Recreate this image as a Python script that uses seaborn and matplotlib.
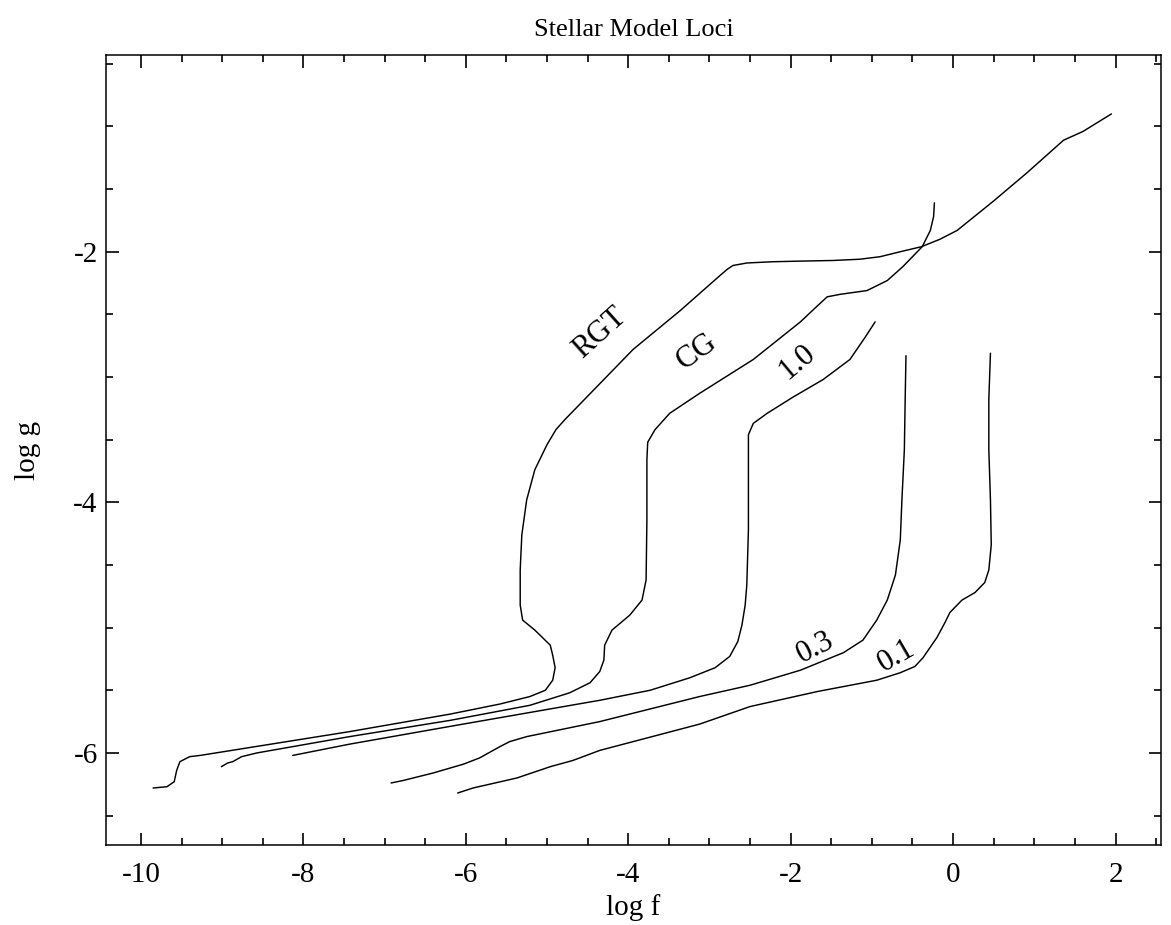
import matplotlib
matplotlib.use("Agg")
import matplotlib.pyplot as plt
from matplotlib.ticker import MultipleLocator
import pandas as pd
import seaborn as sns

# ---- model loci (log f, log g) ----
rgt_f = [-9.85, -9.68, -9.59, -9.56, -9.52, -9.40, -9.27, -7.43, -6.19, -5.58, -5.21,
         -5.02, -4.93, -4.90, -4.93, -4.96, -5.15, -5.30, -5.33, -5.33, -5.31, -5.25,
         -5.15, -5.00, -4.89, -4.78, -3.94, -3.36, -2.87, -2.78, -2.71, -2.54, -2.22,
         -1.88, -1.48, -1.15, -0.90, -0.65, -0.39, -0.16, 0.05, 0.49, 0.91, 1.36, 1.60,
         1.95]
rgt_g = [-6.28, -6.27, -6.23, -6.14, -6.07, -6.03, -6.02, -5.83, -5.69, -5.61, -5.55,
         -5.50, -5.42, -5.32, -5.22, -5.14, -5.02, -4.94, -4.82, -4.54, -4.26, -3.98,
         -3.74, -3.54, -3.42, -3.34, -2.78, -2.47, -2.19, -2.14, -2.11, -2.09, -2.08,
         -2.075, -2.07, -2.06, -2.04, -2.00, -1.96, -1.90, -1.83, -1.60, -1.37, -1.11,
         -1.04, -0.90]

cg_f = [-9.01, -8.93, -8.87, -8.76, -8.57, -7.43, -6.19, -5.21, -4.72, -4.47, -4.35,
        -4.30, -4.29, -4.20, -3.98, -3.83, -3.78, -3.77, -3.77, -3.76, -3.67, -3.49,
        -3.12, -2.46, -1.88, -1.70, -1.55, -1.39, -1.06, -0.81, -0.62, -0.38, -0.28,
        -0.24, -0.23]
cg_g = [-6.11, -6.08, -6.07, -6.03, -6.00, -5.87, -5.74, -5.62, -5.52, -5.44, -5.35,
        -5.26, -5.14, -5.02, -4.90, -4.78, -4.62, -4.14, -3.66, -3.52, -3.42, -3.29,
        -3.13, -2.86, -2.56, -2.45, -2.36, -2.34, -2.31, -2.23, -2.12, -1.96, -1.83,
        -1.72, -1.61]

m10_f = [-8.13, -7.43, -6.12, -4.35, -3.73, -3.24, -2.93, -2.75, -2.65, -2.60, -2.56,
         -2.54, -2.52, -2.52, -2.46, -2.29, -1.97, -1.60, -1.27, -1.08, -0.96]
m10_g = [-6.02, -5.93, -5.78, -5.58, -5.50, -5.40, -5.32, -5.23, -5.11, -4.98, -4.82,
         -4.66, -4.22, -3.46, -3.37, -3.29, -3.16, -3.02, -2.86, -2.68, -2.56]

m03_f = [-6.92, -6.77, -6.40, -6.03, -5.83, -5.58, -5.46, -5.25, -4.35, -3.12, -2.50,
         -1.88, -1.35, -1.11, -0.94, -0.81, -0.71, -0.65, -0.63, -0.60, -0.59, -0.58]
m03_g = [-6.24, -6.22, -6.16, -6.09, -6.04, -5.95, -5.91, -5.87, -5.75, -5.55, -5.46,
         -5.34, -5.20, -5.10, -4.94, -4.78, -4.58, -4.30, -3.98, -3.58, -3.18, -2.83]

m01_f = [-6.10, -5.91, -5.37, -4.96, -4.68, -4.35, -3.12, -2.50, -1.67, -0.94, -0.65,
         -0.47, -0.37, -0.20, -0.10, -0.04, 0.11, 0.27, 0.39, 0.44, 0.47, 0.46, 0.44,
         0.44, 0.46]
m01_g = [-6.32, -6.28, -6.20, -6.11, -6.06, -5.98, -5.77, -5.63, -5.51, -5.42, -5.36,
         -5.31, -5.24, -5.08, -4.96, -4.88, -4.78, -4.72, -4.64, -4.54, -4.34, -3.98,
         -3.58, -3.18, -2.81]

track_names = ["RGT", "CG", "1.0", "0.3", "0.1"]
label_f = [-4.35, -3.15, -1.92, -1.70, -0.69]
label_g = [-2.65, -2.80, -2.88, -5.16, -5.23]
label_rot = [42, 35, 40, 27, 30]

x_ticks = [-10, -8, -6, -4, -2, 0, 2]
y_ticks = [-6, -4, -2]

# ---- styling ----
sns.set_theme(style="ticks")
plt.rcParams["font.family"] = ["Liberation Serif", "DejaVu Serif"]
plt.rcParams["axes.unicode_minus"] = False

tracks = pd.concat(
    [pd.DataFrame({"log f": f, "log g": g, "track": n})
     for n, f, g in zip(track_names,
                        [rgt_f, cg_f, m10_f, m03_f, m01_f],
                        [rgt_g, cg_g, m10_g, m03_g, m01_g])],
    ignore_index=True,
)

fig = plt.figure(figsize=(11.71, 9.25), dpi=100)
ax = fig.add_axes([106 / 1171, 1 - 845 / 925, 1055 / 1171, 790 / 925])

sns.lineplot(data=tracks, x="log f", y="log g", units="track", estimator=None,
             sort=False, color="black", linewidth=1.05, ax=ax)

for name, fx, gy, rot in zip(track_names, label_f, label_g, label_rot):
    ax.text(fx, gy, name, rotation=rot, rotation_mode="anchor",
            ha="center", va="center", fontsize=22, color="black")

ax.set_xlim(-10.43, 2.56)
ax.set_ylim(-6.735, -0.43)
ax.set_xticks(x_ticks)
ax.set_yticks(y_ticks)
ax.set_xticklabels([str(v) for v in x_ticks])
ax.set_yticklabels([str(v) for v in y_ticks])
ax.xaxis.set_minor_locator(MultipleLocator(0.5))
ax.yaxis.set_minor_locator(MultipleLocator(0.5))

ax.tick_params(which="both", direction="in", top=True, right=True,
               color="black", labelcolor="black", width=1.2, labelsize=21)
ax.tick_params(which="major", length=9)
ax.tick_params(which="minor", length=4.8)
ax.tick_params(axis="x", which="major", pad=12)
ax.tick_params(axis="y", which="major", pad=6)

for sp in ax.spines.values():
    sp.set_linewidth(1.1)
    sp.set_color("black")

ax.set_xlabel("log f", fontsize=21, color="black")
ax.set_ylabel("log g", fontsize=21, color="black")
ax.xaxis.set_label_coords(0.5, -0.062)
ax.yaxis.set_label_coords(-0.062, 0.5)

fig.text(633.5 / 1171, 1 - 30 / 925, "Stellar Model Loci", ha="center",
         va="center", fontsize=19, color="black")

fig.savefig("out.png", dpi=100, facecolor="white")
